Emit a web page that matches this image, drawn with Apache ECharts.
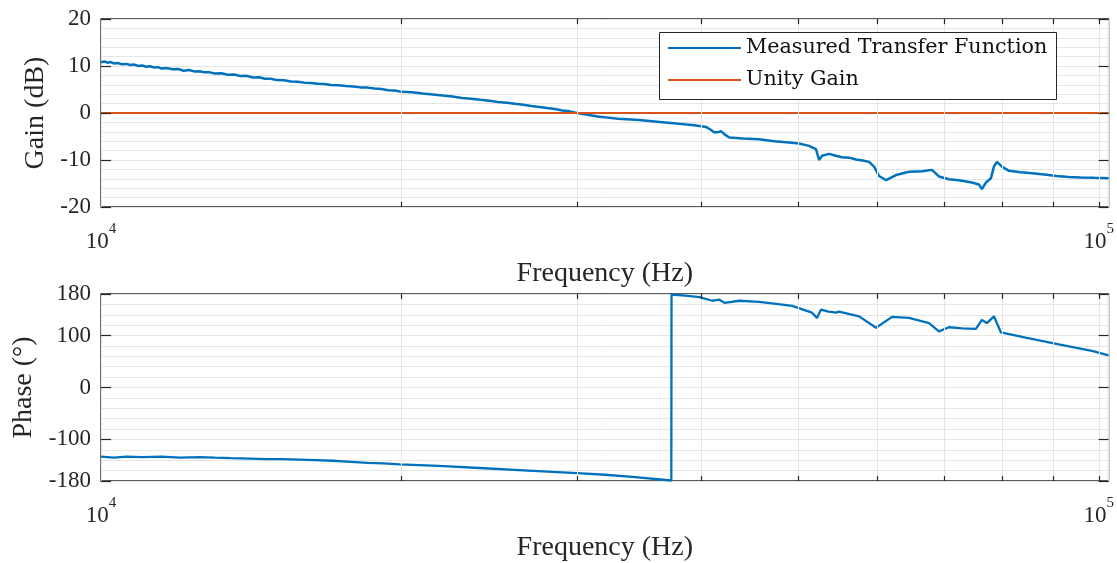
<!DOCTYPE html>
<html>
<head>
<meta charset="utf-8">
<script src="https://cdn.jsdelivr.net/npm/echarts@6/dist/echarts.min.js"></script>
<style>
html,body{margin:0;padding:0;background:#fff;}
#chart{width:1117px;height:563px;}
</style>
</head>
<body>
<div id="chart"></div>
<script>
// ---- Data ----
const gainFreq = [10000,10080,10150,10230,10300,10400,10500,10600,10700,10800,10900,11000,11100,11200,11300,11400,11500,11650,11800,11950,12100,12250,12400,12550,12700,12850,13000,13200,13400,13600,13800,14000,14200,14400,14600,14800,15000,15250,15500,15750,16000,16250,16500,16750,17000,17300,17600,17900,18200,18500,18800,19100,19400,19700,20000,20500,21000,21500,22000,22500,23000,23500,24000,24500,25000,25500,26000,26500,27000,27500,28000,28500,29000,29500,30000,31590,33000,34640,36300,37980,39300,40430,40800,41180,41500,41850,42200,42630,44000,45660,47300,48930,50070,51240,52070,52440,52800,53670,54500,55300,56200,57120,58000,58860,59540,60230,61210,62640,64530,66500,68050,69150,70770,72430,74620,75840,76360,77070,77970,78510,79060,79980,81280,83500,85760,88200,90720,93300,95890,99000,102300];
const gainDb = [10.8,10.95,10.7,10.85,10.55,10.65,10.35,10.45,10.2,10.3,10.0,10.1,9.85,9.95,9.7,9.75,9.45,9.55,9.3,9.35,9.0,9.15,8.85,8.9,8.65,8.65,8.4,8.45,8.15,8.2,7.85,7.9,7.55,7.6,7.3,7.3,7.0,6.95,6.7,6.65,6.45,6.4,6.2,6.15,5.95,5.9,5.75,5.65,5.45,5.4,5.2,5.1,4.85,4.8,4.5,4.4,4.15,3.95,3.7,3.5,3.2,3.05,2.8,2.6,2.35,2.2,1.95,1.75,1.5,1.3,1.05,0.85,0.55,0.35,0.0,-0.8,-1.2,-1.5,-1.9,-2.3,-2.6,-3.0,-3.5,-4.1,-4.1,-3.9,-4.6,-5.2,-5.4,-5.6,-6.0,-6.3,-6.5,-7.0,-7.7,-10.0,-9.1,-8.7,-9.1,-9.4,-9.5,-9.9,-10.1,-10.4,-11.4,-13.4,-14.3,-13.2,-12.5,-12.4,-12.1,-13.5,-14.1,-14.3,-14.8,-15.2,-16.2,-14.8,-13.9,-11.4,-10.4,-11.4,-12.3,-12.6,-12.8,-13.1,-13.4,-13.6,-13.7,-13.8,-13.9];
const unityFreq = [10000, 102300];
const unityDb = [0, 0];
const phaseFreq = [10000,10046,10300,10600,11000,11500,12000,12560,13000,13500,14100,14664,15200,15800,16400,17073,17800,18500,19200,19920,21800,23960,26800,30000,32000,34090,37290,37300,37310,38500,39780,41000,41670,42150,43640,45660,47500,49270,51600,52190,52680,53600,54530,54910,57520,59820,62060,64530,67590,69150,70770,73000,75320,76360,77250,78510,79800,84460,91190,98690,102300];
const phaseDeg = [-133,-132,-135,-133,-134,-133,-135,-134,-135,-136,-137,-138,-138,-139,-140,-141,-143,-145,-146,-148,-151,-155,-160,-165,-168,-172,-179,-180,179,177,174,167,169,163,167,165,161,157,144,134,150,146,144,146,137,115,136,134,124,108,116,114,113,130,124,137,106,96,83,70,62];
const xMinorTicks = [20000,30000,40000,50000,60000,70000,80000,90000,100000];
const gainTicks = [-20,-10,0,10,20];
const phaseTicks = [-180,-100,0,100,180];
const xMin = 10000, xMax = 102300;

const FONT = 'Liberation Serif';
const TXT = '#262626';
const BLUE = '#0072BD', RED = '#D95319';
const GRIDC = '#e6e6e6';

function zip(a, b) { return a.map((v, i) => [v, b[i]]); }
function xLabelFmt(v) {
  const e = Math.log10(v);
  if (Math.abs(e - Math.round(e)) < 1e-6) return '{b|10}{s|' + Math.round(e) + '}';
  return '';
}
function xAxisCfg(gridIndex) {
  return {
    type: 'log', logBase: 10, gridIndex, min: xMin, max: xMax,
    name: 'Frequency (Hz)', nameLocation: 'middle', nameGap: 53,
    nameTextStyle: {fontFamily: FONT, fontSize: 28, color: TXT},
    axisLine: {show: false}, axisTick: {show: false},
    splitLine: {show: true, lineStyle: {color: GRIDC, width: 1}},
    axisLabel: {
      margin: 15, formatter: xLabelFmt, showMinLabel: true, showMaxLabel: true,
      rich: {
        b: {fontFamily: FONT, fontSize: 23, color: TXT, lineHeight: 31, verticalAlign: 'bottom'},
        s: {fontFamily: FONT, fontSize: 15, color: TXT, lineHeight: 16, verticalAlign: 'top'}
      }
    }
  };
}
function yAxisCfg(gridIndex, min, max, interval, majors, name, nameGap, right) {
  return {
    type: 'value', gridIndex, min, max, interval,
    position: right ? 'right' : 'left',
    name: right ? '' : name, nameLocation: 'middle', nameGap,
    nameTextStyle: {fontFamily: FONT, fontSize: 28, color: TXT},
    axisLine: {show: false},
    axisTick: {show: false},
    axisLabel: {show: !right, customValues: majors, margin: 10, fontFamily: FONT, fontSize: 23, color: TXT,
      formatter: v => majors.indexOf(v) >= 0 ? String(v) : ''},
    splitLine: {show: !right, lineStyle: {color: GRIDC, width: 1}}
  };
}
// tick marks drawn through the axes' own scales
function xTickMarks(ymax, ymin, d) {
  const out = [];
  xMinorTicks.forEach(f => {
    out.push([{coord: [f, ymax]}, {coord: [f, ymax - d]}]);
    out.push([{coord: [f, ymin]}, {coord: [f, ymin + d]}]);
  });
  return out;
}
function yTickMarks(majors) {
  const k = Math.pow(10, 10 / 999);
  const out = [];
  majors.forEach(v => {
    out.push([{coord: [xMin, v]}, {coord: [xMin * k, v]}]);
    out.push([{coord: [xMax, v]}, {coord: [xMax / k, v]}]);
  });
  return out;
}
function helper(xi, yi, lines, color, z, w) {
  return {
    type: 'line', xAxisIndex: xi, yAxisIndex: yi, data: [], z, silent: true,
    markLine: {silent: true, symbol: 'none', animation: false,
      label: {show: false}, lineStyle: {color, width: w, type: 'solid'}, data: lines}
  };
}

const chart = echarts.init(document.getElementById('chart'), null, {renderer: 'canvas'});
chart.setOption({
  backgroundColor: '#fff',
  animation: false,
  grid: [
    {left: 101, right: 7, top: 19, height: 188, show: true, borderColor: TXT, borderWidth: 1.3, backgroundColor: 'transparent'},
    {left: 101, right: 7, top: 294, height: 189, show: true, borderColor: TXT, borderWidth: 1.3, backgroundColor: 'transparent'}
  ],
  xAxis: [xAxisCfg(0), xAxisCfg(1)],
  yAxis: [
    yAxisCfg(0, -20, 20, 2, gainTicks, 'Gain (dB)', 46, false),
    yAxisCfg(0, -20, 20, 2, gainTicks, '', 0, true),
    yAxisCfg(1, -180, 180, 20, phaseTicks, 'Phase (°)', 60, false),
    yAxisCfg(1, -180, 180, 20, phaseTicks, '', 0, true)
  ],
  graphic: [{
    type: 'rect', left: 659, top: 32, z: 100,
    shape: {width: 397, height: 67},
    style: {fill: '#fff', stroke: TXT, lineWidth: 1}
  }],
  legend: {
    data: ['Measured Transfer Function', 'Unity Gain'],
    orient: 'vertical', left: 668, top: 36, padding: 0, z: 110,
    icon: 'rect', itemWidth: 73, itemHeight: 2, itemGap: 8,
    textStyle: {fontFamily: 'DejaVu Serif', fontSize: 20.7, color: '#111', lineHeight: 24}
  },
  series: [
    helper(0, 0, xMinorTicks.map(f => ({xAxis: f})), GRIDC, 1, 1),
    helper(1, 2, xMinorTicks.map(f => ({xAxis: f})), GRIDC, 1, 1),
    {
      name: 'Measured Transfer Function', type: 'line', xAxisIndex: 0, yAxisIndex: 0,
      data: zip(gainFreq, gainDb), symbol: 'none', z: 3,
      lineStyle: {color: BLUE, width: 2.5}, itemStyle: {color: BLUE}
    },
    {
      name: 'Unity Gain', type: 'line', xAxisIndex: 0, yAxisIndex: 0,
      data: zip(unityFreq, unityDb), symbol: 'none', z: 3,
      lineStyle: {color: RED, width: 2}, itemStyle: {color: RED}
    },
    {
      name: 'Phase', type: 'line', xAxisIndex: 1, yAxisIndex: 2,
      data: zip(phaseFreq, phaseDeg), symbol: 'none', z: 3,
      lineStyle: {color: BLUE, width: 2.3}, itemStyle: {color: BLUE}
    },
    helper(0, 0, xTickMarks(20, -20, 1.1).concat(yTickMarks(gainTicks)), TXT, 5, 1.2),
    helper(1, 2, xTickMarks(180, -180, 9.5).concat(yTickMarks(phaseTicks)), TXT, 5, 1.2)
  ]
});
</script>
</body>
</html>
